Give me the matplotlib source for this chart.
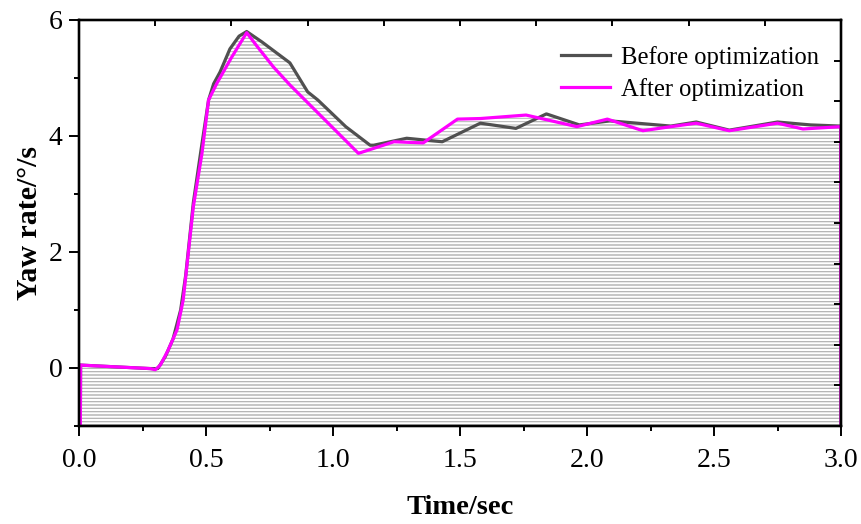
import numpy as np
import matplotlib.pyplot as plt

plt.rcParams['font.family'] = ['Liberation Serif', 'DejaVu Serif']
plt.rcParams['hatch.color'] = '#b4b4b4'
plt.rcParams['hatch.linewidth'] = 0.7

# yaw rate before optimization (time in s, value in deg/s)
t_before = [0.005, 0.006, 0.28, 0.31, 0.34, 0.37, 0.40, 0.42, 0.45, 0.48, 0.51, 0.53, 0.555,
            0.594, 0.63, 0.66, 0.72, 0.83, 0.90, 0.94, 1.05, 1.146, 1.16, 1.29, 1.43,
            1.58, 1.72, 1.84, 1.97, 2.09, 2.33, 2.43, 2.56, 2.75, 2.88, 2.999, 3.0]
y_before = [-1.2, 0.05, -0.01, -0.01, 0.2, 0.5, 1.0, 1.6, 2.85, 3.75, 4.62, 4.9, 5.1,
            5.5, 5.72, 5.8, 5.62, 5.26, 4.76, 4.62, 4.16, 3.84, 3.84, 3.96, 3.9,
            4.22, 4.13, 4.38, 4.19, 4.26, 4.17, 4.24, 4.1, 4.24, 4.19, 4.17, -1.2]

# yaw rate after optimization
t_after = [0.005, 0.006, 0.28, 0.30, 0.32, 0.35, 0.386, 0.41, 0.45, 0.484, 0.51, 0.543,
           0.60, 0.66, 0.70, 0.765, 0.83, 1.10, 1.24, 1.355, 1.49, 1.58, 1.67, 1.76,
           1.96, 2.08, 2.22, 2.33, 2.43, 2.56, 2.75, 2.85, 2.999, 3.0]
y_after = [-1.2, 0.05, -0.01, -0.03, 0.05, 0.3, 0.66, 1.17, 2.78, 3.7, 4.62, 4.91,
           5.35, 5.78, 5.55, 5.19, 4.88, 3.7, 3.9, 3.88, 4.29, 4.3, 4.33, 4.36,
           4.16, 4.29, 4.09, 4.16, 4.22, 4.09, 4.22, 4.12, 4.16, -1.2]

fig = plt.figure(figsize=(8.61, 5.24), dpi=100)
ax = fig.add_axes([0.0918, 0.187, 0.885, 0.775])

# hatched area under both curves
ax.fill_between(t_before, -1.2, y_before, facecolor='none', edgecolor='#b4b4b4',
                hatch='-----', linewidth=0)
ax.fill_between(t_after, -1.2, y_after, facecolor='none', edgecolor='#b4b4b4',
                hatch='-----', linewidth=0)

ax.plot(t_before, y_before, color='#505050', lw=2.3, label='Before optimization')
ax.plot(t_after, y_after, color='#ff00ff', lw=2.3, label='After optimization')

ax.set_xlim(0, 3)
ax.set_ylim(-1, 6)
ax.set_xticks(np.arange(0, 3.01, 0.5))
ax.set_xticks(np.arange(0.25, 3, 0.5), minor=True)
ax.set_yticks([0, 2, 4, 6])
ax.set_yticks([-1, 1, 3, 5], minor=True)
ax.tick_params(which='major', direction='out', length=7, width=1.4, labelsize=20)
ax.tick_params(axis='x', which='major', pad=9)
ax.tick_params(axis='y', which='major', pad=5)
ax.tick_params(which='minor', direction='out', length=3.6, width=1.4)
for s in ax.spines.values():
    s.set_linewidth(1.6)

ax.set_xlabel('Time/sec', fontsize=20.5, fontweight='bold', labelpad=16)
ax.set_ylabel('Yaw rate/°/s', fontsize=21.5, fontweight='bold', labelpad=4)

# extra ticks on top and right edges
axt = ax.twiny()
axt.set_xlim(0, 1)
axt.set_xticks(np.linspace(0, 1, 11))
axt.tick_params(direction='in', length=4, width=1.4, labeltop=False)
axr = ax.twinx()
axr.set_ylim(0, 1)
axr.set_yticks(np.linspace(0, 1, 11))
axr.tick_params(direction='in', length=5, width=1.4, labelright=False)
for a in (axt, axr):
    for s in a.spines.values():
        s.set_linewidth(1.6)

ax.legend(loc='upper right', frameon=False, fontsize=17.7, handlelength=2.0,
          handletextpad=0.45, labelspacing=0.35, bbox_to_anchor=(1.0, 0.99))

fig.savefig('out.png', dpi=100)
